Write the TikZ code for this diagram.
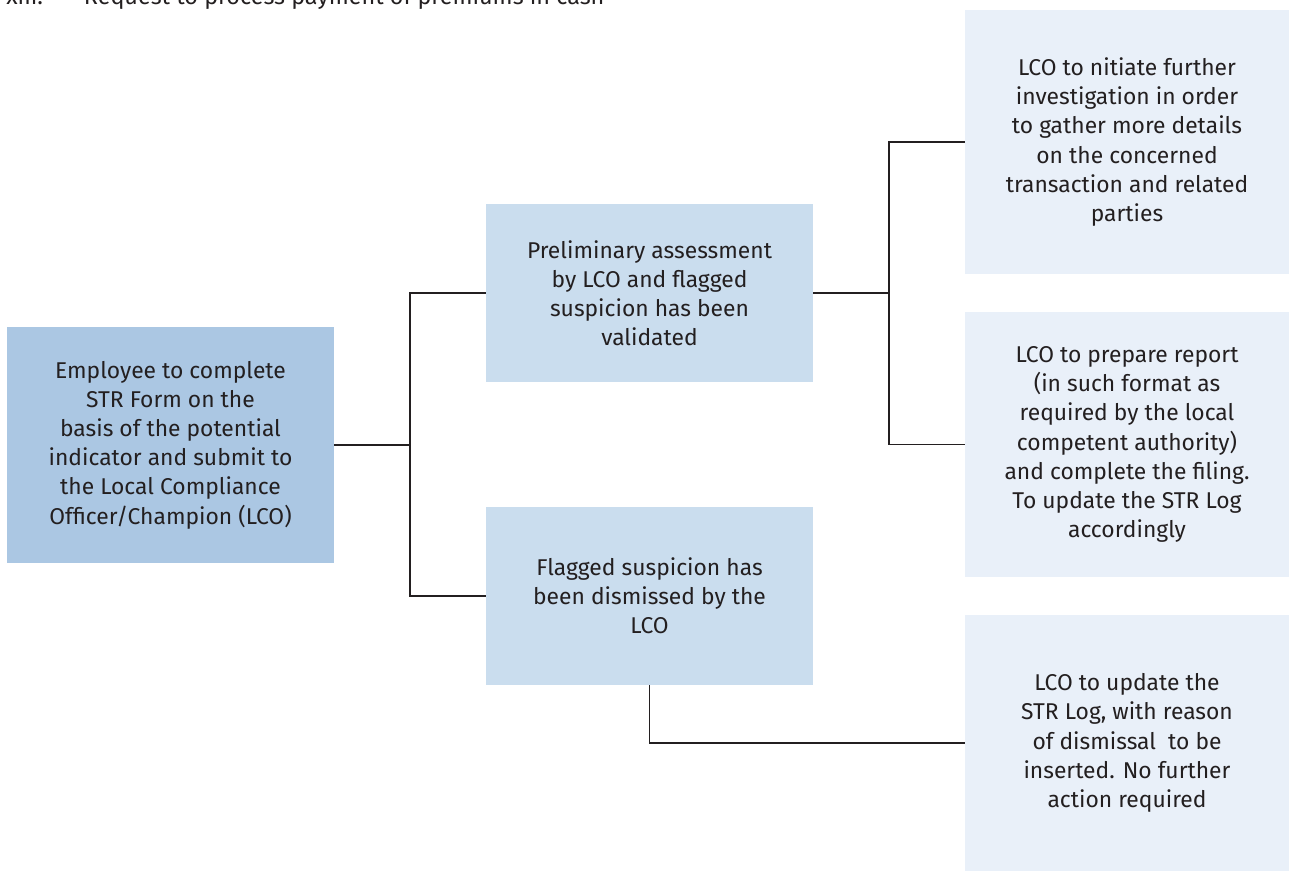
\documentclass[tikz,border=0pt]{standalone}
\usepackage{fontspec}
\setmainfont{Fira Sans}
\definecolor{inkgrey}{RGB}{35,31,32}
\definecolor{boxdark}{RGB}{171,199,227}
\definecolor{boxmid}{RGB}{202,221,238}
\definecolor{boxlight}{RGB}{233,240,249}
\tikzstyle{box}=[draw=none, fill=boxmid, text=inkgrey, align=center, inner sep=0pt,
    minimum width=6.54cm, minimum height=3.56cm, font=\fontsize{13}{16.6}\selectfont]
\tikzstyle{startbox} = [box, fill=boxdark, minimum height=4.72cm]
\tikzstyle{endbox} = [box, fill=boxlight, minimum width=6.48cm]
\tikzstyle{branch} = [coordinate]
\tikzstyle{link} = [draw=inkgrey, line width=0.7pt]

\begin{document}
\begin{tikzpicture}[x=0.02cm, y=-0.02cm]
	\useasboundingbox (0,0) rectangle (1290,872);
	% Define the nodes in the picture
	\node (heading)[anchor=base west, text=inkgrey, inner sep=0pt,
	    font=\fontsize{13.3}{16.6}\selectfont] at (6,5) {xiii.\hspace{1.75em}Request to process payment of premiums in cash};
	\node (employee)[startbox] at (170.5,445) {Employee to complete\\STR Form on the\\basis of the potential\\indicator and submit to\\the Local Compliance\\Officer/Champion (LCO)};
	\node (validated)[box] at (649.5,293) {Preliminary assessment\\by LCO and flagged\\suspicion has been\\validated};
	\node (dismissed)[box] at (649.5,596) {Flagged suspicion has\\been dismissed by the\\LCO};
	\node (investigate)[endbox, minimum height=5.28cm] at (1127,142) {LCO to nitiate further\\investigation in order\\to gather more details\\on the concerned\\transaction and related\\parties};
	\node (report)[endbox, minimum height=5.3cm] at (1127,444.5) {LCO to prepare report\\(in such format as\\required by the local\\competent authority)\\and complete the filing.\\To update the STR Log\\accordingly};
	\node (logonly)[endbox, minimum height=5.12cm] at (1127,743) {LCO to update the\\STR Log, with reason\\of dismissal\ \ to be\\inserted. No further\\action required};
	\coordinate (split_a) at (410,445);
	\coordinate (split_b) at (889,293);

	% Define the edges in the picture
	\draw [link] (employee.east) -- (split_a);
	\draw [link] (validated.west) -| (split_a) |- (dismissed.west);
	\draw [link] (validated.east) -- (split_b);
	\draw [link] (investigate.west) -| (split_b) |- (report.west);
	\draw [link] (dismissed.south) |- (logonly.west);
\end{tikzpicture}
\end{document}
